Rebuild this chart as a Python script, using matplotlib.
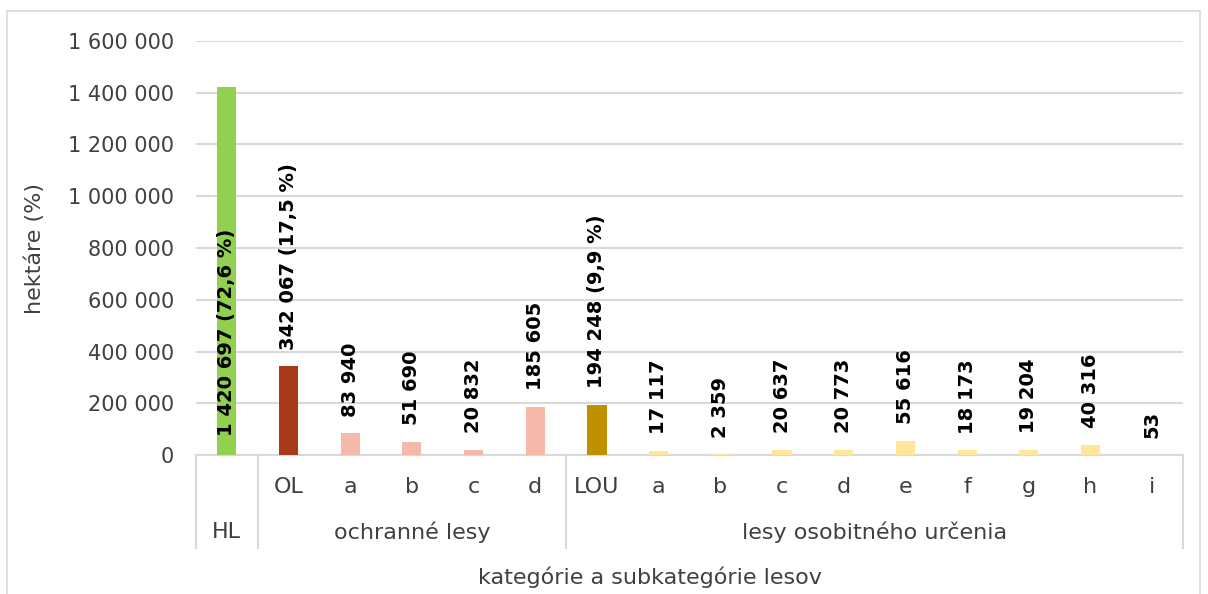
import matplotlib
matplotlib.use("Agg")
import matplotlib.pyplot as plt
from matplotlib.patches import Rectangle

# ---- data ----
sub_labels = ["HL", "OL", "a", "b", "c", "d", "LOU", "a", "b", "c", "d", "e", "f", "g", "h", "i"]
values = [1420697, 342067, 83940, 51690, 20832, 185605,
          194248, 17117, 2359, 20637, 20773, 55616, 18173, 19204, 40316, 53]
shares = {0: "72,6", 1: "17,5", 6: "9,9"}   # share of total area for main categories
group_names = ["HL", "ochranné lesy", "lesy osobitného určenia"]
group_spans = [(0, 0), (1, 5), (6, 15)]
yticks = [0, 200000, 400000, 600000, 800000, 1000000, 1200000, 1400000, 1600000]

colors = ["#92D050", "#A9391B"] + ["#F4B9A8"] * 4 + ["#BF9000"] + ["#FFE699"] * 9

plt.rcParams["font.family"] = ["DejaVu Sans"]
TXT = "#404040"
GRID = "#D9D9D9"


def fmt(v):
    return f"{v:,}".replace(",", " ")


W, H = 1208, 594
fig = plt.figure(figsize=(W / 100, H / 100), dpi=100)
# outer chart border
fig.patches.append(Rectangle((7 / W, -0.01), (1200 - 7) / W, 1 - 11 / H + 0.01,
                             transform=fig.transFigure, fill=False,
                             edgecolor=GRID, lw=1.2))

x0, x1, ytop, ybot = 196, 1183, 41, 455
ax = fig.add_axes([x0 / W, 1 - ybot / H, (x1 - x0) / W, (ybot - ytop) / H])
ax.set_facecolor("none")

x = list(range(len(values)))
ax.bar(x, values, width=0.31, color=colors, zorder=3)

ax.set_xlim(-0.5, len(values) - 0.5)
ax.set_ylim(0, 1600000)
ax.set_yticks(yticks, [fmt(t) for t in yticks])
ax.tick_params(axis="y", length=0, pad=16, labelsize=15, labelcolor=TXT)
ax.set_xticks([])
ax.grid(axis="y", color=GRID, lw=1.5, zorder=0)
for s in ["left", "right", "top"]:
    ax.spines[s].set_visible(False)
ax.spines["bottom"].set_color(GRID)
ax.spines["bottom"].set_linewidth(1.5)

# data labels
for i, v in enumerate(values):
    lab = fmt(v)
    if i in shares:
        lab += f" ({shares[i]} %)"
    if i == 0:
        ax.annotate(lab, (i, 0), xytext=(0, 14), textcoords="offset points",
                    rotation=90, ha="center", va="bottom", fontsize=14,
                    fontweight="bold", color="black", zorder=4)
    else:
        ax.annotate(lab, (i, v), xytext=(0, 12), textcoords="offset points",
                    rotation=90, ha="center", va="bottom", fontsize=14,
                    fontweight="bold", color="black", zorder=4)

# multi-level category axis
tr = ax.get_xaxis_transform()
ph = ybot - ytop
row1 = -(487 - ybot) / ph
row2 = -(532 - ybot) / ph
bottom = -(548 - ybot) / ph
for i, lab in enumerate(sub_labels):
    if i == 0:
        continue
    ax.text(i, row1, lab, transform=tr, ha="center", va="center",
            fontsize=16, color=TXT)
for (a, b), name in zip(group_spans, group_names):
    ax.text((a + b) / 2, row2, name, transform=tr, ha="center", va="center",
            fontsize=16, color=TXT)
for xb in [-0.5, 0.5, 5.5, len(values) - 0.5]:
    ax.plot([xb, xb], [0, bottom], transform=tr, color=GRID, lw=1.5,
            clip_on=False)

fig.text(35 / W, 1 - 248 / H, "hektáre (%)", rotation=90, ha="center",
         va="center", fontsize=16, color=TXT)
fig.text(650 / W, 1 - 577 / H, "kategórie a subkategórie lesov", ha="center",
         va="center", fontsize=16, color=TXT)

fig.savefig("out.png", dpi=100)
